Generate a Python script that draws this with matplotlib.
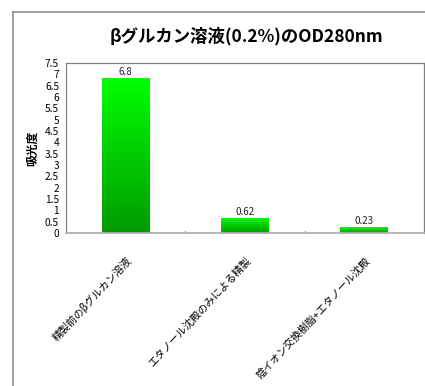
import numpy as np
import matplotlib.pyplot as plt
from matplotlib.colors import LinearSegmentedColormap
from matplotlib.lines import Line2D

plt.rcParams['font.family'] = ['Noto Sans CJK JP', 'DejaVu Sans']

categories = ["精製前のβグルカン溶液", "エタノール沈殿のみによる精製", "陰イオン交換樹脂+エタノール沈殿"]
values = [6.8, 0.62, 0.23]
value_labels = ["6.8", "0.62", "0.23"]
yticks = np.arange(0, 7.51, 0.5)
ytick_labels = ["0", "0.5", "1", "1.5", "2", "2.5", "3", "3.5", "4", "4.5",
                "5", "5.5", "6", "6.5", "7", "7.5"]

fig = plt.figure(figsize=(4.25, 3.86), dpi=100)
ax = fig.add_axes([66 / 425, 1 - 233 / 386, 358 / 425, 170 / 386])

# vertical green gradient, bright at the top of each bar
green = LinearSegmentedColormap.from_list("bar_green", ["#009a00", "#00ff00"])
grad = np.linspace(0, 1, 256).reshape(-1, 1)
width = 0.4
x = np.arange(len(categories))
for xi, v, lab in zip(x, values, value_labels):
    ax.imshow(grad, cmap=green, origin="lower", aspect="auto",
              extent=[xi - width / 2, xi + width / 2, 0, v], zorder=2)
    ax.text(xi, v + 0.08, lab, ha="center", va="bottom", fontsize=7, color="#222222")

ax.set_xlim(-0.5, len(categories) - 0.5)
ax.set_ylim(0, 7.5)
ax.set_yticks(yticks)
ax.set_yticklabels(ytick_labels, fontsize=7.3)
ax.tick_params(axis="y", length=0, pad=5)
ax.set_xticks(x)
ax.set_xticklabels(categories, rotation=47, ha="right", rotation_mode="anchor", fontsize=7.5)
ax.tick_params(axis="x", length=0, pad=16)
# small separators between categories
for xs in [0.5, 1.5]:
    ax.plot([xs, xs], [0, 0.08], color="#999999", lw=0.8, clip_on=False)

for s in ax.spines.values():
    s.set_color("#808080")
    s.set_linewidth(0.9)
ax.spines["bottom"].set_color("#b0b0b0")
ax.spines["bottom"].set_linewidth(1.3)

ax.set_ylabel("吸光度", fontsize=8.5, fontweight="bold", labelpad=4)

fig.text(246 / 425, 1 - 36 / 386, "βグルカン溶液(0.2%)のOD280nm", ha="center", va="center",
         fontsize=12.5, fontweight="bold")

# outer frame of the chart area
fig.add_artist(Line2D([13 / 425, 13 / 425], [0, 1 - 12 / 386], color="#909090", lw=1.2))
fig.add_artist(Line2D([13 / 425, 1], [1 - 12 / 386, 1 - 12 / 386], color="#909090", lw=1.2))

fig.savefig("out.png", dpi=100)
